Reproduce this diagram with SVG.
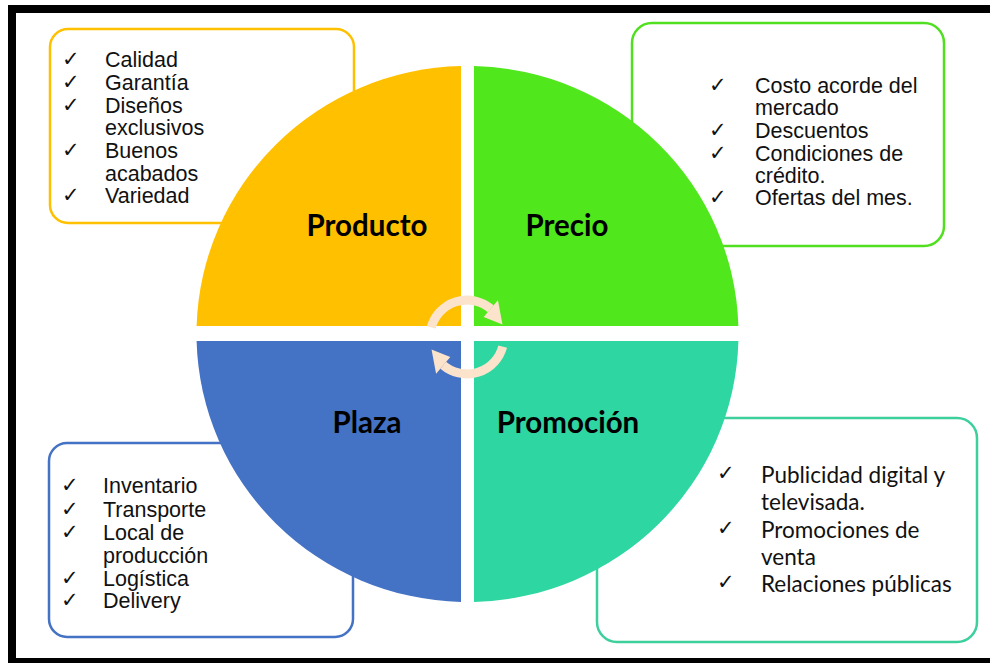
<svg xmlns="http://www.w3.org/2000/svg" width="990" height="663" viewBox="0 0 990 663">
<style>
.box{fill:#fff;stroke-width:2.5}
.li{font-family:"Liberation Sans",Arial,sans-serif;font-size:21.5px;fill:#111}
.ck{font-family:"DejaVu Sans",sans-serif;font-size:21px;fill:#111}
.lc{font-family:Lato,"Open Sans",sans-serif;font-size:22.5px;fill:#111}
.ttl{font-family:Lato,"Open Sans",sans-serif;font-size:29.5px;font-weight:bold;fill:#000;text-anchor:middle}
.arc{fill:none;stroke:#FBE3CC;stroke-width:9}
.head{fill:#FBE3CC}
</style>
<rect x="0" y="0" width="990" height="663" fill="#fff"/>
<rect x="12" y="9" width="990" height="653" fill="#fff" stroke="#000" stroke-width="8"/>

<g id="box-producto">
<rect class="box" x="50" y="29" width="304" height="194" rx="18" stroke="#FFC000"/>
<text class="ck" x="62" y="66">✓</text><text class="li" x="105" y="67">Calidad</text>
<text class="ck" x="62" y="89">✓</text><text class="li" x="105" y="90">Garantía</text>
<text class="ck" x="62" y="112">✓</text><text class="li" x="105" y="113">Diseños</text>
<text class="li" x="105" y="135">exclusivos</text>
<text class="ck" x="62" y="157">✓</text><text class="li" x="105" y="158">Buenos</text>
<text class="li" x="105" y="181">acabados</text>
<text class="ck" x="62" y="202">✓</text><text class="li" x="105" y="203">Variedad</text>
</g>

<g id="box-precio">
<rect class="box" x="632" y="23" width="312" height="223" rx="20" stroke="#50E020"/>
<text class="ck" x="709" y="92">✓</text><text class="li" x="755" y="93">Costo acorde del</text>
<text class="li" x="755" y="115">mercado</text>
<text class="ck" x="709" y="137">✓</text><text class="li" x="755" y="138">Descuentos</text>
<text class="ck" x="709" y="160">✓</text><text class="li" x="755" y="161">Condiciones de</text>
<text class="li" x="755" y="183">crédito.</text>
<text class="ck" x="709" y="204">✓</text><text class="li" x="755" y="205">Ofertas del mes.</text>
</g>

<g id="box-plaza">
<rect class="box" x="49" y="443" width="304" height="194" rx="18" stroke="#4472C4"/>
<text class="ck" x="61" y="492">✓</text><text class="li" x="103" y="493">Inventario</text>
<text class="ck" x="61" y="516">✓</text><text class="li" x="103" y="517">Transporte</text>
<text class="ck" x="61" y="539">✓</text><text class="li" x="103" y="540">Local de</text>
<text class="li" x="103" y="563">producción</text>
<text class="ck" x="61" y="585">✓</text><text class="li" x="103" y="586">Logística</text>
<text class="ck" x="61" y="607">✓</text><text class="li" x="103" y="608">Delivery</text>
</g>

<g id="box-promocion">
<rect class="box" x="597" y="418" width="380" height="224" rx="20" stroke="#3DD09C"/>
<text class="ck" x="717" y="480">✓</text><text class="lc" x="761" y="483">Publicidad digital y</text>
<text class="lc" x="761" y="510">televisada.</text>
<text class="ck" x="717" y="535">✓</text><text class="lc" x="761" y="538">Promociones de</text>
<text class="lc" x="761" y="565">venta</text>
<text class="ck" x="717" y="589">✓</text><text class="lc" x="761" y="592">Relaciones públicas</text>
</g>

<g id="q-producto">
<path d="M461,326 L196.6,326 A271,268 0 0 1 461,66.1 Z" fill="#FFC000"/>
<text class="ttl" x="367" y="236">Producto</text>
</g>
<g id="q-precio">
<path d="M474,326 L474,66.1 A271,268 0 0 1 738.4,326 Z" fill="#50E81C"/>
<text class="ttl" x="567" y="236">Precio</text>
</g>
<g id="q-plaza">
<path d="M461,341 L461,601.9 A271,268 0 0 1 196.6,341 Z" fill="#4472C4"/>
<text class="ttl" x="367" y="433">Plaza</text>
</g>
<g id="q-promocion">
<path d="M474,341 L738.4,341 A271,268 0 0 1 474,601.9 Z" fill="#2ED6A1"/>
<text class="ttl" x="568" y="433">Promoción</text>
</g>

<g id="connectors">
<path class="arc" d="M431.3,327.4 A37,37 0 0 1 490.8,308.7"/>
<polygon class="head" points="483.7,317.1 497.9,300.2 502.5,324.5"/>
<path class="arc" d="M502.7,346.6 A37,37 0 0 1 443.2,365.3"/>
<polygon class="head" points="450.3,356.9 436.1,373.8 431.5,349.5"/>
</g>
</svg>
